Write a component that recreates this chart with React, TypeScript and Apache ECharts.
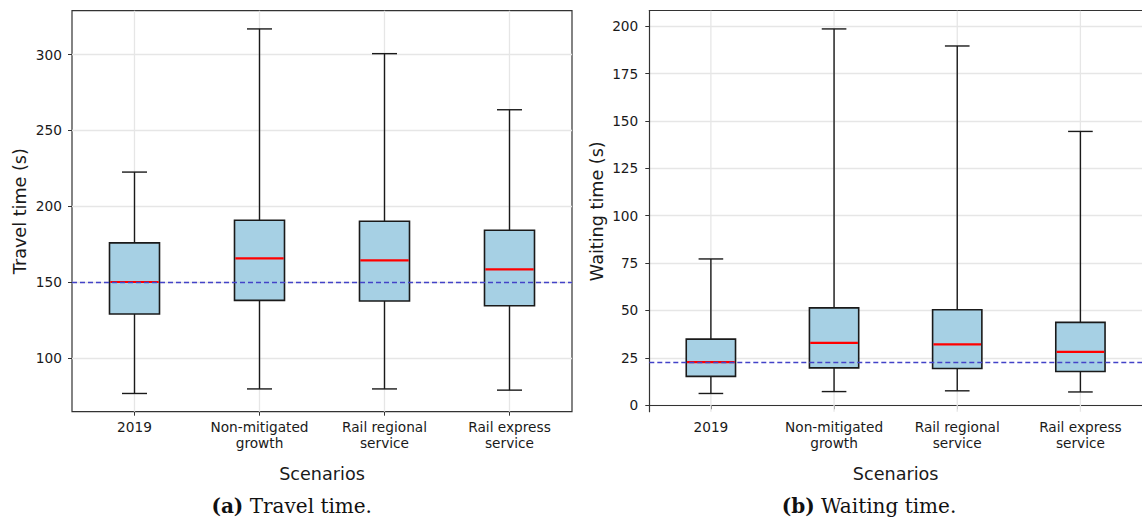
import React, { useEffect, useRef } from "react";
import * as echarts from "echarts";

const categories = ["2019", "Non-mitigated\ngrowth", "Rail regional\nservice", "Rail express\nservice"];

const travelMin = [76.5, 79.5, 79.5, 78.7];
const travelQ1 = [128.9, 137.9, 137.5, 134.3];
const travelMedian = [150.0, 165.6, 164.3, 158.4];
const travelQ3 = [175.8, 190.7, 190.1, 184.1];
const travelMax = [222.5, 316.9, 300.6, 263.6];
const travelReference = 150;
const travelTicks = [100, 150, 200, 250, 300];

const waitMin = [6.2, 7.2, 7.6, 7.0];
const waitQ1 = [15.2, 19.7, 19.4, 17.8];
const waitMedian = [22.7, 32.9, 32.1, 28.2];
const waitQ3 = [34.9, 51.4, 50.4, 43.7];
const waitMax = [77.2, 198.6, 189.6, 144.5];
const waitReference = 22.7;
const waitTicks = [0, 25, 50, 75, 100, 125, 150, 175, 200];

const FONT = "DejaVu Sans";
const TEXT = "#1a1a1a";
const EDGE = "#1a1a1a";
const GRIDC = "#e6e6e6";
const FRAME = "#333";

function pad(lo: number[], hi: number[]) {
  const a = Math.min(...lo);
  const b = Math.max(...hi);
  const m = (b - a) * 0.05;
  return [a - m, b + m];
}

function renderBox(params: any, api: any) {
  const i = api.value(0);
  const low = api.coord([i, api.value(1)]);
  const q1 = api.coord([i, api.value(2)]);
  const med = api.coord([i, api.value(3)]);
  const q3 = api.coord([i, api.value(4)]);
  const high = api.coord([i, api.value(5)]);
  const band = api.size([1, 0])[0];
  const x = low[0];
  const bw = band * 0.4;
  const cw = band * 0.2;
  const ls = { stroke: EDGE, lineWidth: 1.4 };
  return {
    type: "group",
    children: [
      { type: "line", shape: { x1: x, y1: low[1], x2: x, y2: q1[1] }, style: ls },
      { type: "line", shape: { x1: x, y1: q3[1], x2: x, y2: high[1] }, style: ls },
      { type: "line", shape: { x1: x - cw / 2, y1: low[1], x2: x + cw / 2, y2: low[1] }, style: ls },
      { type: "line", shape: { x1: x - cw / 2, y1: high[1], x2: x + cw / 2, y2: high[1] }, style: ls },
      {
        type: "rect",
        shape: { x: x - bw / 2, y: q3[1], width: bw, height: q1[1] - q3[1] },
        style: { fill: "#a6d0e4", stroke: EDGE, lineWidth: 1.6 },
      },
      {
        type: "line",
        shape: { x1: x - bw / 2 + 0.8, y1: med[1], x2: x + bw / 2 - 0.8, y2: med[1] },
        style: { stroke: "#ff0000", lineWidth: 2.2 },
      },
    ],
  };
}

function renderGridLine(params: any, api: any) {
  const cs = params.coordSys;
  const p = api.coord([api.value(0), 0]);
  return {
    type: "line",
    shape: { x1: p[0], y1: cs.y, x2: p[0], y2: cs.y + cs.height },
    style: { stroke: GRIDC, lineWidth: 1.3 },
  };
}

export default function App() {
  const ref = useRef<HTMLDivElement>(null);
  useEffect(() => {
    if (!ref.current) return;
    const chart = echarts.init(ref.current, undefined, { renderer: "svg" });
    const tRange = pad(travelMin, travelMax);
    const wRange = pad(waitMin, waitMax);
    const travelData = categories.map((_, i) => [i, travelMin[i], travelQ1[i], travelMedian[i], travelQ3[i], travelMax[i]]);
    const waitData = categories.map((_, i) => [i, waitMin[i], waitQ1[i], waitMedian[i], waitQ3[i], waitMax[i]]);
    const gridIdx = categories.map((_, i) => [i]);

    const xAxisCommon = {
      type: "category",
      data: categories,
      name: "Scenarios",
      nameLocation: "middle",
      nameGap: 53,
      nameTextStyle: { fontFamily: FONT, fontSize: 17.6, color: TEXT },
      axisLine: { show: false },
      axisTick: { show: true, alignWithLabel: true, length: 4, lineStyle: { color: FRAME, width: 1 } },
      axisLabel: { interval: 0, margin: 8, fontFamily: FONT, fontSize: 13.7, lineHeight: 15.5, color: TEXT },
      splitLine: { show: false },
    };
    const yAxisCommon = {
      type: "value",
      nameLocation: "middle",
      nameGap: 43,
      nameTextStyle: { fontFamily: FONT, fontSize: 17.6, color: TEXT },
      axisLine: { show: false },
      axisTick: { show: true, length: 4, lineStyle: { color: FRAME, width: 1 } },
      splitLine: { show: true, lineStyle: { color: GRIDC, width: 1.3 } },
    };
    const refLine = (v: number) => ({
      silent: true,
      symbol: "none",
      label: { show: false },
      lineStyle: { color: "#4343c8", width: 1.4, type: [5, 3] },
      data: [{ yAxis: v }],
    });

    chart.setOption({
      animation: false,
      grid: [
        { left: 72, top: 10.7, width: 500, height: 401, show: true, borderColor: FRAME, borderWidth: 1.2, backgroundColor: "transparent" },
        { left: 649.3, top: 10.7, width: 500, height: 401, show: false },
      ],
      xAxis: [
        { ...xAxisCommon, gridIndex: 0 },
        { ...xAxisCommon, gridIndex: 1, axisLine: { show: true, lineStyle: { color: FRAME, width: 1.2 } } },
        {
          type: "category",
          data: categories,
          gridIndex: 1,
          position: "top",
          axisLine: { show: true, lineStyle: { color: FRAME, width: 1.2 } },
          axisTick: { show: false },
          axisLabel: { show: false },
          splitLine: { show: false },
        },
      ],
      yAxis: [
        {
          ...yAxisCommon,
          gridIndex: 0,
          name: "Travel time (s)",
          min: tRange[0],
          max: tRange[1],
          axisTick: { ...yAxisCommon.axisTick, customValues: travelTicks },
          axisLabel: { customValues: travelTicks, margin: 10, fontFamily: FONT, fontSize: 13.7, color: TEXT },
        },
        {
          ...yAxisCommon,
          gridIndex: 1,
          name: "Waiting time (s)",
          min: wRange[0],
          max: wRange[1],
          axisLine: { show: true, onZero: false, lineStyle: { color: FRAME, width: 1.2 } },
          axisTick: { ...yAxisCommon.axisTick, customValues: waitTicks },
          axisLabel: { customValues: waitTicks, margin: 11, fontFamily: FONT, fontSize: 13.7, color: TEXT },
        },
      ],
      series: [
        {
          type: "custom",
          xAxisIndex: 0,
          yAxisIndex: 0,
          z: 1,
          silent: true,
          renderItem: renderGridLine,
          data: gridIdx,
          encode: { x: 0 },
          markLine: refLine(travelReference),
        },
        {
          type: "custom",
          xAxisIndex: 1,
          yAxisIndex: 1,
          z: 1,
          silent: true,
          renderItem: renderGridLine,
          data: gridIdx,
          encode: { x: 0 },
          markLine: refLine(waitReference),
        },
        {
          type: "custom",
          name: "Travel time",
          xAxisIndex: 0,
          yAxisIndex: 0,
          z: 3,
          renderItem: renderBox,
          data: travelData,
          encode: { x: 0, y: [1, 2, 3, 4, 5] },
        },
        {
          type: "custom",
          name: "Waiting time",
          xAxisIndex: 1,
          yAxisIndex: 1,
          z: 3,
          renderItem: renderBox,
          data: waitData,
          encode: { x: 0, y: [1, 2, 3, 4, 5] },
        },
      ],
      graphic: [
        {
          type: "text",
          x: 291.7,
          y: 506,
          style: {
            text: "{b|(a)} Travel time.",
            rich: { b: { fontFamily: "DejaVu Serif", fontWeight: "bold", fontSize: 20, fill: "#111" } },
            fontFamily: "DejaVu Serif",
            fontSize: 20,
            fill: "#111",
            align: "center",
            verticalAlign: "middle",
            textAlign: "center",
            textVerticalAlign: "middle",
          },
        },
        {
          type: "text",
          x: 869,
          y: 506,
          style: {
            text: "{b|(b)} Waiting time.",
            rich: { b: { fontFamily: "DejaVu Serif", fontWeight: "bold", fontSize: 20, fill: "#111" } },
            fontFamily: "DejaVu Serif",
            fontSize: 20,
            fill: "#111",
            align: "center",
            verticalAlign: "middle",
            textAlign: "center",
            textVerticalAlign: "middle",
          },
        },
      ],
    });
    return () => chart.dispose();
  }, []);
  return (
    <div
      ref={ref}
      style={{ position: "fixed", left: 0, top: 0, width: 1142, height: 528, background: "#fff" }}
    />
  );
}
